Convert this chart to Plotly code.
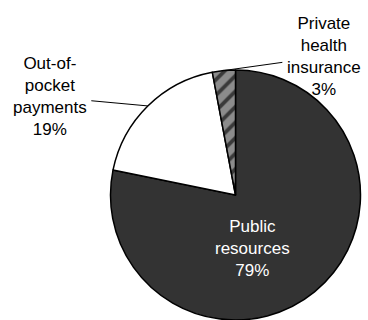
import math
import plotly.graph_objects as go

# Health spending by source of funds (%)
sources = ["Public<br>resources", "Out-of-<br>pocket<br>payments", "Private<br>health<br>insurance"]
shares = [79, 19, 3]
fill_colors = ["#333333", "#ffffff", "#8c8c8c"]
patterns = ["", "", "/"]

W, H = 368, 320
CX, CY, R = 235.5, 195.0, 125.0  # pie centre / radius in pixels (from top-left)

FONT = "Liberation Sans, Arial, sans-serif"

fig = go.Figure(go.Pie(
    labels=sources,
    values=shares,
    sort=False,
    direction="clockwise",
    rotation=0,
    marker=dict(
        colors=fill_colors,
        line=dict(color="#000000", width=1.5),
        pattern=dict(shape=patterns, fgcolor="#3a3a3a", bgcolor=fill_colors,
                     size=11, solidity=0.35),
    ),
    textinfo="none",
    showlegend=False,
    hoverinfo="skip",
    domain=dict(x=[(CX - R) / W, (CX + R) / W], y=[(H - CY - R) / H, (H - CY + R) / H]),
))

# Slice labels: the big slice is labelled inside, the others outside with
# leader lines running to the middle of each slice's rim
total = sum(shares)
label_style = {
    0: dict(offset=(17, 53), inside=True),
    1: dict(offset=(-98, -9), inside=False),
    2: dict(offset=(100, -14), inside=False),
}
annotations = []
start = 0.0
for i, v in enumerate(shares):
    frac = v / total
    mid = (start + frac / 2) * 2 * math.pi  # clockwise from 12 o'clock
    start += frac
    style = label_style[i]
    text = f"{sources[i]}<br>{v}%"
    if style["inside"]:
        dx, dy = style["offset"]
        annotations.append(dict(
            x=(CX + dx) / W, y=1 - (CY + dy) / H, xref="paper", yref="paper",
            xanchor="center", yanchor="middle",
            text=text, showarrow=False, align="center",
            font=dict(family=FONT, size=17, color="#ffffff"),
        ))
        continue
    px = CX + R * math.sin(mid)
    py = CY - R * math.cos(mid)
    ax, ay = style["offset"]
    annotations.append(dict(
        x=px / W, y=1 - py / H, xref="paper", yref="paper",
        text=text,
        showarrow=True, arrowhead=0, arrowwidth=1, arrowcolor="#000000",
        ax=ax, ay=ay, standoff=0, borderpad=4,
        font=dict(family=FONT, size=17, color="#000000"),
        align="center",
    ))

fig.update_layout(
    width=W, height=H,
    margin=dict(l=0, r=0, t=0, b=0),
    paper_bgcolor="#ffffff",
    plot_bgcolor="#ffffff",
    annotations=annotations,
)

fig.write_html("out.html")
